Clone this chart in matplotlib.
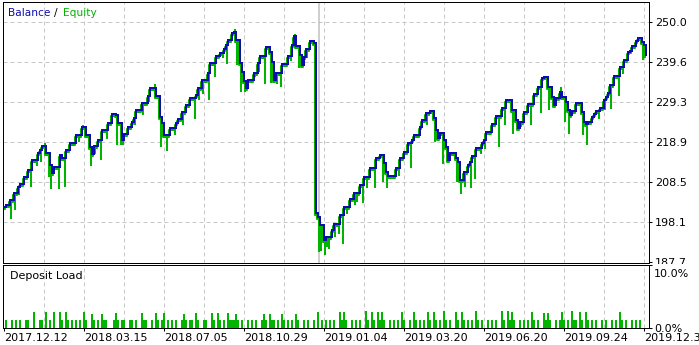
import numpy as np
import matplotlib
matplotlib.use("Agg")
import matplotlib.pyplot as plt
from matplotlib import transforms
from matplotlib.patches import Rectangle

plt.rcParams['font.family'] = ['DejaVu Sans']
plt.rcParams['lines.scale_dashes'] = False

# ---------------- data ----------------
deal = [0, 1, 3, 5, 7, 8, 10, 12, 14, 17, 18, 19, 21, 23, 24, 25, 28, 29, 31, 33, 36, 39, 41, 43, 44, 45,
        47, 49, 52, 54, 56, 57, 59, 60, 62, 64, 65, 66, 69, 72, 73, 76, 78, 79, 80, 83, 86, 87, 89, 91, 93,
        96, 97, 99, 102, 103, 106, 108, 110, 111, 112, 114, 115, 116, 118, 119, 120, 121, 122, 125, 127,
        128, 131, 132, 133, 134, 135, 136, 139, 142, 144, 145, 146, 148, 149, 150, 151, 153, 155, 156, 157,
        158, 160, 161, 164, 165, 168, 170, 173, 175, 178, 180, 183, 186, 188, 190, 191, 192, 196, 198, 200,
        202, 204, 205, 208, 209, 211, 213, 215, 216, 217, 218, 220, 221, 222, 223, 226, 227, 228, 230, 232,
        233, 234, 236, 239, 240, 241, 244, 246, 249, 251, 254, 256, 257, 258, 260, 262, 265, 267, 269, 270,
        272, 274, 275, 276, 278, 279, 281, 282, 283, 284, 286, 289, 290, 291, 292, 294, 295, 296, 298, 300,
        301, 302, 303, 305, 308, 310, 312, 313, 314, 316, 317, 319, 320, 321]
balance = [202.2, 202.6, 203.9, 205.8, 207.3, 208.0, 209.9, 211.8, 214.3, 216.0, 216.9, 218.0, 216.0, 213.0,
           210.8, 212.5, 215.6, 214.7, 216.9, 218.8, 220.8, 222.9, 220.8, 217.6, 215.8, 217.9, 219.6, 222.1,
           224.0, 226.2, 226.0, 223.8, 219.5, 221.0, 222.9, 224.2, 225.1, 227.2, 229.1, 230.9, 233.0, 230.9,
           225.5, 223.8, 220.8, 222.5, 223.8, 224.8, 226.8, 228.5, 230.5, 231.1, 233.0, 235.0, 236.9, 239.4,
           241.3, 242.0, 243.0, 244.1, 245.4, 247.2, 247.6, 245.4, 239.5, 237.2, 234.9, 232.9, 235.0, 236.8,
           239.4, 241.3, 243.5, 243.7, 242.4, 239.8, 235.0, 236.9, 239.2, 241.3, 244.1, 246.5, 243.9, 241.5,
           238.9, 240.9, 243.0, 245.2, 244.6, 200.4, 199.4, 197.4, 193.5, 194.2, 196.1, 197.8, 200.0, 202.0,
           204.1, 205.6, 207.8, 209.9, 212.1, 214.9, 215.6, 213.4, 211.2, 210.1, 212.1, 214.7, 216.4, 218.6,
           219.5, 220.8, 222.9, 224.7, 226.4, 227.1, 225.1, 222.1, 219.9, 221.4, 219.5, 217.7, 214.3, 216.2,
           214.7, 213.8, 209.1, 211.2, 213.0, 213.8, 215.3, 217.3, 218.6, 219.5, 221.5, 223.5, 225.8, 227.7,
           229.8, 227.2, 224.7, 222.7, 224.2, 226.7, 228.7, 231.3, 233.3, 235.6, 235.9, 233.3, 230.7, 228.5,
           230.4, 232.0, 230.7, 229.4, 227.2, 225.9, 227.0, 229.0, 226.7, 224.1, 223.7, 224.2, 225.5, 226.1,
           227.0, 227.8, 229.8, 230.7, 231.8, 233.7, 236.1, 238.5, 240.2, 242.4, 242.6, 243.9, 245.2, 246.0,
           245.0, 244.1, 241.5]

# equity excursions away from balance (deal, equity value)
dip_deal = [0, 4, 6, 8, 14, 17, 19, 21, 23, 24, 28, 31, 38, 40, 44, 46, 49, 52, 54, 57, 59, 60, 64, 66, 70,
            73, 76, 79, 82, 86, 90, 96, 98, 100, 103, 106, 110, 112, 116, 117, 119, 121, 126, 128, 131, 134,
            137, 139, 144, 146, 148, 152, 157, 158, 159, 161, 162, 163, 164, 166, 168, 170, 172, 176, 177, 180,
            182, 186, 190, 192, 196, 198, 202, 204, 208, 212, 216, 220, 225, 227, 229, 231, 234, 236, 239,
            241, 244, 248, 251, 254, 255, 259, 264, 269, 273, 275, 279, 281, 283, 288, 290, 292, 298, 301,
            304, 308, 310, 316, 320]
dip_value = [199.6, 199.6, 201.7, 205.8, 207.8, 213.2, 214.4, 219.3, 210.4, 207.3, 207.2, 207.8, 219.6,
             223.8, 213.2, 216.4, 214.7, 220.3, 224.2, 218.8, 218.8, 218.8, 222.9, 224.0, 226.5, 229.8,
             234.6, 218.2, 217.1, 221.2, 223.8, 225.5, 230.3, 232.0, 230.5, 236.3, 241.3, 239.8, 248.9,
             239.4, 232.4, 232.4, 236.3, 237.6, 234.6, 234.8, 234.6, 233.7, 240.4, 247.6, 238.7, 241.3,
             200.6, 190.9, 191.1, 190.2, 192.2, 191.8, 194.2, 194.8, 195.7, 193.1, 200.8, 203.0, 203.9,
             203.6, 207.5, 207.5, 209.1, 207.5, 211.2, 210.6, 216.4, 212.7, 220.8, 223.8, 219.5, 213.8,
             216.0, 209.1, 206.0, 207.8, 207.5, 209.9, 216.4, 217.7, 221.6, 218.2, 223.8, 230.4, 221.6,
             223.4, 223.8, 227.0, 227.7, 229.0, 233.7, 224.7, 221.6, 229.6, 221.2, 218.6, 225.5, 227.7,
             228.1, 231.3, 237.2, 244.1, 240.7]

load_deal = [1, 4, 6, 8, 11, 12, 15, 18, 19, 21, 23, 25, 28, 29, 31, 32, 34, 36, 38, 40, 41, 44, 45, 47, 49,
             50, 51, 55, 56, 57, 59, 60, 63, 64, 66, 69, 70, 71, 74, 76, 77, 79, 80, 82, 84, 86, 89, 90, 91,
             93, 94, 96, 97, 100, 101, 104, 105, 107, 108, 110, 112, 113, 114, 115, 116, 117, 119, 122, 124,
             126, 129, 130, 131, 133, 134, 135, 137, 139, 140, 142, 144, 146, 147, 150, 152, 155, 157, 159,
             161, 163, 165, 168, 169, 170, 171, 174, 176, 178, 181, 182, 184, 185, 187, 188, 189, 190, 193,
             195, 197, 199, 200, 203, 205, 206, 208, 210, 212, 213, 215, 216, 218, 220, 221, 223, 226, 227,
             229, 230, 232, 234, 236, 237, 239, 242, 244, 246, 249, 250, 252, 253, 254, 255, 258, 260, 262,
             264, 265, 267, 270, 271, 272, 273, 276, 278, 279, 280, 282, 284, 285, 286, 288, 289, 291, 292,
             294, 296, 299, 301, 304, 306, 308, 309, 311, 314, 316, 318]
load_pct = [1.25, 1.25, 1.25, 1.25, 1.25, 1.25, 2.55, 1.25, 1.25, 2.55, 1.25, 2.55, 2.55, 1.25, 2.55, 1.25,
            1.25, 1.25, 1.25, 2.55, 1.25, 2.3, 1.25, 1.25, 2.3, 1.25, 1.25, 1.25, 2.4, 1.25, 1.25, 1.25, 1.25,
            1.25, 1.25, 2.4, 1.25, 1.25, 1.25, 2.4, 1.25, 1.25, 2.4, 1.25, 1.25, 1.25, 1.25, 2.3, 1.25, 1.25,
            1.25, 2.4, 1.25, 1.25, 1.25, 2.4, 1.25, 2.4, 1.25, 1.25, 2.4, 1.25, 1.25, 1.25, 2.2, 1.25, 1.25,
            1.25, 1.25, 1.25, 1.25, 2.2, 1.25, 2.2, 1.25, 1.25, 1.25, 2.2, 1.25, 1.25, 1.25, 2.2, 1.25, 1.25,
            1.25, 1.25, 2.55, 1.25, 1.25, 1.25, 1.25, 2.55, 1.25, 2.55, 1.25, 1.25, 1.25, 1.25, 2.7, 1.25,
            2.55, 1.25, 2.55, 1.25, 2.55, 1.25, 1.25, 1.25, 1.25, 2.55, 1.25, 1.25, 2.55, 1.25, 1.25, 1.25,
            2.55, 1.25, 2.55, 1.25, 1.25, 2.7, 1.25, 1.25, 2.55, 1.25, 2.55, 1.25, 1.25, 1.25, 2.7, 1.25,
            1.25, 1.25, 1.25, 1.25, 2.7, 1.25, 2.7, 1.25, 2.55, 1.25, 1.25, 1.25, 1.25, 2.55, 1.25, 1.25,
            2.4, 1.25, 2.4, 1.25, 1.25, 1.25, 2.55, 1.25, 1.25, 2.7, 1.25, 1.25, 2.55, 1.25, 2.55, 1.25,
            1.25, 1.25, 1.25, 1.25, 1.25, 1.25, 2.55, 1.25, 1.25, 1.25, 1.25, 1.25]

y_ticks = [187.7, 198.1, 208.5, 218.9, 229.3, 239.6, 250.0]
load_ticks = [0, 10]
load_tick_labels = ['0.0%', '10.0%']
x_tick_deals = [0, 40, 80, 120, 160, 200, 240, 280, 320]
x_tick_labels = ["2017.12.12", "2018.03.15", "2018.07.05", "2018.10.29", "2019.01.04",
                 "2019.03.20", "2019.06.20", "2019.09.24", "2019.12.30"]
grid_deals = [20, 40, 60, 80, 100, 120, 140, 160, 180, 200, 220, 240, 260, 280, 300, 320]
marker_deal = 157.7

# ---------------- style ----------------
BLUE = '#0c0cb0'
GREEN = '#00b400'
GRID = '#c8c8c8'
W, H = 699, 345
PX = 72 / 100.0  # points per pixel

fig = plt.figure(figsize=(W / 100, H / 100), dpi=100)
fig.patch.set_facecolor('white')


def frame(x0, y0, x1, y1):
    return [x0 / W, 1 - y1 / H, (x1 - x0) / W, (y1 - y0) / H]


ax = fig.add_axes(frame(3, 2, 649, 263))
ax2 = fig.add_axes(frame(3, 265, 649, 328))
ax.set_zorder(1)
ax2.set_zorder(3)

dash = (0, (4 * PX, 3 * PX))

# main panel
ax.set_xlim(-0.5, 322.5)
ax.set_ylim(187.55, 255.29)
for yv in y_ticks[1:]:
    ax.axhline(yv, color=GRID, lw=PX, linestyle=dash, zorder=1)
for xv in grid_deals:
    ax.axvline(xv, color=GRID, lw=PX, linestyle=dash, zorder=1)
ax.axvline(marker_deal, color='#c0c0c0', lw=1.5 * PX, zorder=1)

off = transforms.offset_copy(ax.transData, fig=fig, x=-1, y=-2, units='dots')
ax.plot(deal, balance, drawstyle='steps-post', color=GREEN, lw=2 * PX, transform=off, zorder=2)
idx = np.searchsorted(np.array(deal), np.array(dip_deal), side='right') - 1
base = np.array(balance)[idx]
dv = np.array(dip_value)
ax.vlines(dip_deal, np.minimum(dv, base), np.maximum(dv, base), colors=GREEN, lw=2 * PX,
          transform=off, zorder=2)
ax.plot(deal, balance, drawstyle='steps-post', color=BLUE, lw=2 * PX, zorder=3,
        solid_joinstyle='miter')

ax.yaxis.tick_right()
ax.set_yticks(y_ticks)
ax.set_yticklabels([f"{v:.1f}" for v in y_ticks])
ax.tick_params(axis='y', direction='out', length=3 * PX, width=PX, labelsize=8, pad=2, colors='black')
ax.set_xticks([])
for s in ax.spines.values():
    s.set_linewidth(PX)
    s.set_color('black')

# lower panel
ax2.set_facecolor('white')
ax2.set_xlim(-0.5, 322.5)
ax2.set_ylim(0, 10)
for xv in grid_deals:
    ax2.axvline(xv, color=GRID, lw=PX, linestyle=dash, zorder=1)
ax2.bar(load_deal, load_pct, width=1.0, color=GREEN, align='center', zorder=2)
ax2.yaxis.tick_right()
ax2.set_yticks(load_ticks)
ax2.set_yticklabels([])
ax2.tick_params(axis='y', direction='out', length=3 * PX, width=PX, labelsize=8, pad=2)
ytr = ax2.get_yaxis_transform()
ax2.text(1.0, load_ticks[0], load_tick_labels[0], fontsize=8, va='center_baseline', ha='left',
         transform=transforms.offset_copy(ytr, fig=fig, x=5, y=0, units='dots'), clip_on=False)
ax2.text(1.0, load_ticks[1], load_tick_labels[1], fontsize=8, va='center_baseline', ha='left',
         transform=transforms.offset_copy(ytr, fig=fig, x=5, y=-8, units='dots'), clip_on=False)
ax2.set_xticks(x_tick_deals)
ax2.set_xticklabels(x_tick_labels)
for lbl in ax2.get_xticklabels():
    lbl.set_ha('left')
ax2.tick_params(axis='x', direction='out', length=3 * PX, width=PX, labelsize=8, pad=1.5)
for s in ax2.spines.values():
    s.set_linewidth(PX)
    s.set_color('black')
ax2.text(7 / 646, 0.82, "Deposit Load", transform=ax2.transAxes, fontsize=8, va='center', ha='left')

# white strip hiding the lower half of the bottom main-axis label
fig.patches.append(Rectangle((649.5 / W, 1 - 268 / H), 49.5 / W, 4.3 / H, transform=fig.transFigure,
                             facecolor='white', edgecolor='none', zorder=2))

# legend-like title
fig.text(8 / W, 1 - 13 / H, "Balance", color=BLUE, fontsize=7.7, va='center', ha='left', zorder=5)
fig.text(54 / W, 1 - 13 / H, "/", color='black', fontsize=7.7, va='center', ha='left', zorder=5)
fig.text(62.5 / W, 1 - 13 / H, "Equity", color=GREEN, fontsize=7.7, va='center', ha='left', zorder=5)

fig.savefig('out.png', dpi=100)
